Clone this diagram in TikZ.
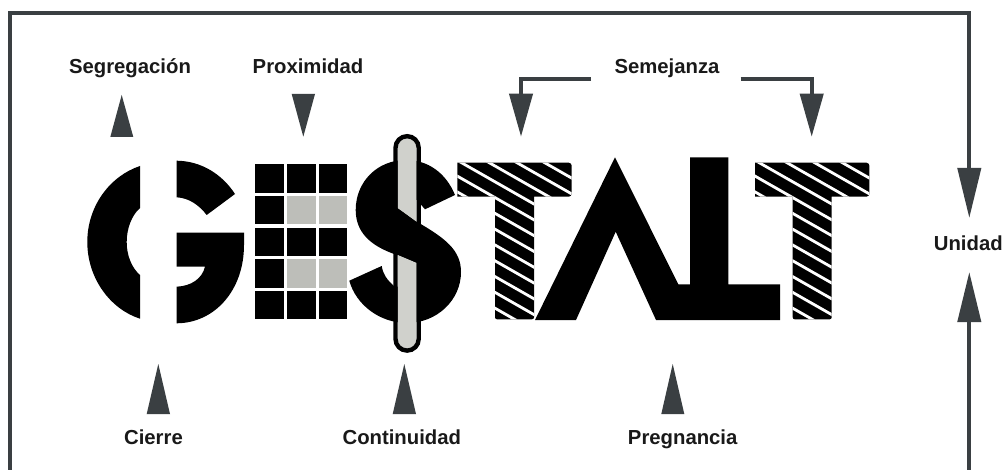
\documentclass[tikz,border=0pt]{standalone}
\usepackage{fontspec}
\setmainfont{Liberation Sans}
\usetikzlibrary{arrows.meta}
\definecolor{slate}{HTML}{3A3F42}
\definecolor{pale}{HTML}{BDBEB9}
\definecolor{pill}{HTML}{D0D1CC}
\tikzset{
  label text/.style={inner sep=0pt,anchor=base,font=\fontsize{20.3}{22}\selectfont\bfseries,text=black!90},
  conn/.style={draw=slate,line width=4pt},
  head/.style={conn,-{Triangle[length=43pt,width=23pt,fill=slate]}},
  bighead/.style={conn,-{Triangle[length=50pt,width=23pt,fill=slate]}},
  mark tri/.style={fill=slate},
  glyph/.style={fill=black}
}
\newcommand{\hatchT}[1]{%
  \begin{scope}[shift={(#1,0)}]
    \begin{scope}
      \clip (457.3,162.7) -- (568,162.7) [rounded corners=3pt] -- (571.7,162.7) -- (571.7,196.7) [sharp corners] -- (534,196.7) [rounded corners=2pt] -- (534,319.3) -- (495,319.3) [sharp corners] -- (495,196.7) -- (457.3,196.7) -- cycle;
      \fill[black] (450,155) rectangle (580,325);
      \foreach \k in {-8,...,5} {
        \draw[white,line width=2.8pt] (450,{245+15.8*\k+0.57*(450-495)}) -- (580,{245+15.8*\k+0.57*(580-495)});
      }
    \end{scope}
  \end{scope}}
\begin{document}
\begin{tikzpicture}[x=1pt,y=-1pt]
\useasboundingbox (0,0) rectangle (1003,470);
\fill[white] (0,0) rectangle (1003,470);

% labels
\node[label text] (seg) at (130,74) {Segregación};
\node[label text] (prox) at (308,74) {Proximidad};
\node[label text] (sem) at (667,74) {Semejanza};
\node[label text] (uni) at (968.3,250.5) {Unidad};
\node[label text] (cie) at (153.5,444) {Cierre};
\node[label text] (con) at (401.8,444) {Continuidad};
\node[label text] (pre) at (682.7,444) {Pregnancia};

% frame connectors
\coordinate (fbl) at (10,470);
\coordinate (fcorner) at (969.3,13);
\coordinate (ftip) at (969.3,218);
\coordinate (fbr) at (969.3,470);
\coordinate (ftipb) at (969.3,272);
\draw[bighead] (fbl) |- (fcorner) -- (ftip);
\draw[bighead] (fbr) -- (ftipb);

% Semejanza brackets
\coordinate (sl) at (591,78.7);
\coordinate (sltip) at (521,136.7);
\coordinate (sr) at (740.7,78.7);
\coordinate (srtip) at (811.7,136.7);
\draw[head] (sl) -| (sltip);
\draw[head] (sr) -| (srtip);

% stand-alone triangles
\fill[mark tri] (121.7,95) -- (133.3,137) -- (110.3,137) -- cycle;
\fill[mark tri] (303.3,136.7) -- (315,94) -- (291.7,94) -- cycle;
\fill[mark tri] (158.3,364) -- (170,414) -- (146.7,414) -- cycle;
\fill[mark tri] (404.3,364) -- (416,414) -- (392.7,414) -- cycle;
\fill[mark tri] (672.7,364) -- (684.3,414) -- (661.3,414) -- cycle;

% G
\fill[glyph] (140,166) .. controls (110,176) and (87.3,206) .. (87.3,242)
  .. controls (87.3,278) and (110,309) .. (140,318.7) -- (140,275)
  .. controls (132,268) and (126.7,256) .. (126.7,242)
  .. controls (126.7,228) and (132,215) .. (140,208) -- cycle;
\fill[glyph] (176.7,160.7) .. controls (201,161) and (222,174) .. (235,194)
  -- (206.7,215) .. controls (199,205) and (189,198) .. (176.7,197.3) -- cycle;
\fill[glyph] (176.7,232.7) -- (244,232.7) -- (244,245)
  .. controls (244,290) and (215,323) .. (176.7,323.3) -- (176.7,286.7)
  .. controls (191,286) and (202,279) .. (205,266.7) -- (176.7,266.7) -- cycle;

% E grid
\foreach \xa/\xb/\ci in {255/284/0,287/315.7/1,318.7/347.3/2}{
  \foreach \ya/\yb/\ri in {164.3/192.7/0,196/224.3/1,227.7/256/2,259.3/287.7/3,291/319.3/4}{
    \pgfmathtruncatemacro{\isgray}{(\ci>0)&&(\ri==1||\ri==3)}
    \ifnum\isgray=1
      \fill[pale] (\xa,\ya) rectangle (\xb,\yb);
    \else
      \fill[black] (\xa,\ya) rectangle (\xb,\yb);
    \fi
  }
}

% dollar S
\fill[glyph] (455,195) .. controls (446,173) and (428,160) .. (406,160)
  .. controls (377,160) and (355.7,182) .. (355.7,210)
  .. controls (355.7,232) and (370,246) .. (397,255)
  -- (416,263) -- (416,290) -- (394,286)
  .. controls (387,280) and (383,274) .. (381.7,266)
  -- (349.3,280.7)
  .. controls (356,305) and (380,323) .. (407,323)
  .. controls (437,323) and (461,300) .. (461,272)
  .. controls (461,250) and (445,238) .. (416.7,221.7)
  -- (398,208) -- (398,200) -- (417,200) -- (425,209.3) -- cycle;

% pill
\fill[pill] (397.7,208) -- (397.7,148) arc[start angle=180,end angle=360,radius=9.5] -- (416.7,221.7) -- cycle;
\fill[pill] (397.7,255) -- (416.7,263) -- (416.7,339) arc[start angle=0,end angle=180,radius=9.5] -- cycle;
\draw[black,line width=4.4pt] (395.5,147.8) arc[start angle=180,end angle=360,radius=11.6] -- (418.7,339) arc[start angle=0,end angle=180,radius=11.6] -- cycle;

% hatched T's
\hatchT{0}
\hatchT{297.7}

% A + L
\fill[glyph] (615,157.3) -- (678.3,284.3) -- (690,284.3) -- (690,157.3) -- (728.3,157.3)
  -- (728.3,284.3) -- (780,284.3) -- (780,320) -- (656,320) -- (615.7,231.7) -- (576,320) -- (535,320) -- cycle;
\end{tikzpicture}
\end{document}
